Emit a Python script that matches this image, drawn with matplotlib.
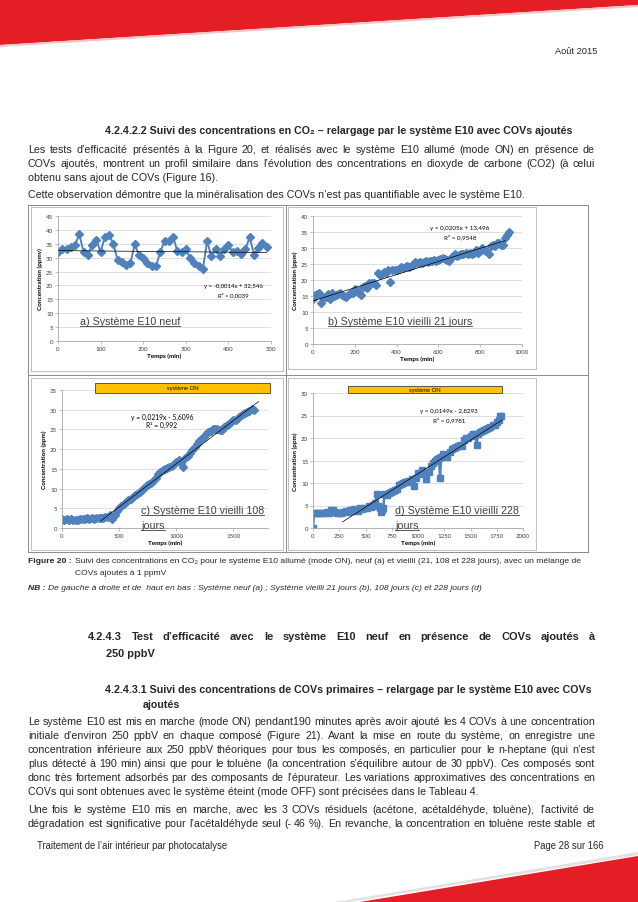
import numpy as np
import matplotlib
matplotlib.use("Agg")
import matplotlib.pyplot as plt
from matplotlib.patches import Polygon, Rectangle

W, H = 638, 903
RED = "#E31E24"
BLUE = "#4F81BD"
BODY = ["Liberation Sans", "DejaVu Sans"]
CHART = ["Lato", "Liberation Sans", "DejaVu Sans"]

# ---- data ----
# a) new system, every 10 min
a_time = np.arange(0, 500, 10)
a_conc = [32, 33, 33, 34, 34.5, 38.5, 32, 31, 34.5, 36.5,
          32, 37.5, 38, 35, 29, 28.5, 27.5, 28, 34.8, 31,
          30, 28, 27, 27, 32, 36, 36, 37.5, 32.5, 32,
          33, 30, 28, 27, 25.8, 36, 30.5, 33, 30.5, 33,
          34.5, 32, 32.5, 31.5, 33, 37.5, 31, 33.5, 35.3, 34]
a_fit = (-0.0014, 32.546)

# b) aged 21 days, every 10 min
b_time = np.arange(0, 950, 10)
b_conc = [14, 15.3, 15.5, 15.8, 12.8, 14.5, 14.8, 15.5, 14, 16,
          15, 15.3, 15.5, 15.8, 15.2, 15, 14.8, 15.5, 16, 15.8,
          17.3, 16.5, 16, 15.3, 17.8, 18, 17.5, 19, 19, 19.2,
          18.5, 22.3, 21.5, 22, 22.5, 22.3, 23, 19.5, 23, 23.2,
          23, 23.5, 24, 23.8, 24.2, 24.5, 24, 24.5, 24.8, 25.5,
          25.3, 25.5, 25.2, 25.5, 25.8, 25.5, 26, 25.8, 26.2, 26,
          26.3, 26.5, 26.8, 26.5, 26.2, 26, 26.8, 27.5, 28, 27.5,
          27.8, 28, 28.2, 28.5, 28, 28.3, 28, 28.5, 29.5, 28.5,
          29.2, 30, 29.5, 29, 28, 30.5, 31, 30.5, 31.5, 31.5,
          31, 30.8, 33, 34, 35]
b_fit = (0.0205, 13.496)

# c) aged 108 days
c_time = [0, 20, 40, 60, 80, 100, 120, 140, 160, 180, 200, 220, 240, 260, 280,
          300, 320, 340, 360, 380, 400, 420, 440, 460, 480, 500, 520, 540, 560,
          580, 600, 620, 640, 660, 680, 700, 720, 740, 760, 780, 800, 820, 840,
          860, 880, 900, 920, 940, 960, 980, 1000, 1020, 1040, 1060, 1080, 1100,
          1120, 1140, 1160, 1180, 1200, 1220, 1240, 1260, 1280, 1300, 1320, 1340,
          1360, 1380, 1400, 1420, 1440, 1460, 1480, 1500, 1520, 1540, 1560, 1580,
          1600, 1620, 1640, 1660, 1680]
c_conc = [2.2, 2.1, 2.2, 2.1, 2.2, 2.1, 2.0, 2.1, 2.2, 2.3, 2.2, 2.5, 2.4, 2.5, 2.4,
          2.5, 2.6, 2.5, 2.6, 2.7, 2.8, 3.2, 2.2, 3.3, 4.2, 5.0, 5.6, 6.2, 6.5,
          7.0, 7.3, 7.8, 8.3, 8.7, 9.2, 9.6, 10.2, 10.8, 11.2, 11.5, 12.0, 12.8, 13.8,
          14.3, 14.8, 15.0, 15.3, 15.5, 15.8, 16.3, 16.8, 17.2, 16.5, 15.5, 17.8, 18.3,
          19.0, 19.8, 20.5, 21.2, 22.0, 22.6, 23.2, 23.8, 24.3, 24.5, 25.0, 25.2,
          25.0, 24.8, 24.8, 25.5, 26.2, 26.5, 27.0, 27.3, 27.5, 28.0, 28.3, 28.8,
          29.2, 29.5, 29.8, 30.2, 30.0]
c_fit = (0.0219, -5.6096)

# d) aged 228 days
d_time = [0, 10, 30, 50, 70, 90, 110, 130, 150, 170, 190, 210, 230, 250, 270,
          290, 310, 330, 350, 370, 390, 410, 430, 450, 470, 490, 510, 530, 550,
          570, 590, 610, 620, 640, 650, 660, 670, 680, 700, 720, 740, 760, 780,
          800, 820, 840, 860, 880, 900, 920, 940, 960, 980, 1000, 1020, 1040, 1060,
          1080, 1100, 1120, 1140, 1160, 1180, 1200, 1210, 1220, 1240, 1260, 1280,
          1300, 1320, 1340, 1360, 1380, 1400, 1420, 1440, 1460, 1480, 1500, 1520,
          1540, 1560, 1570, 1590, 1610, 1630, 1650, 1670, 1690, 1710, 1730, 1750,
          1770, 1780, 1790]
d_conc = [0, 3.3, 3.4, 3.3, 3.4, 3.3, 3.4, 3.5, 3.4, 4.0, 3.9, 3.5, 3.4, 3.3, 3.3,
          3.5, 3.8, 3.5, 4.0, 3.8, 4.2, 4.0, 3.8, 4.5, 4.3, 4.5, 4.4, 4.8, 4.6,
          5.2, 5.5, 7.5, 5.0, 4.5, 3.5, 4.0, 4.5, 7.5, 7.3, 7.8, 8.0, 8.3, 8.5,
          8.6, 9.5, 9.8, 10.0, 10.3, 10.5, 10.2, 10.8, 9.3, 11.2, 12.3, 12.0, 13.0, 12.5,
          11.0, 12.5, 13.8, 14.5, 15.0, 15.3, 15.5, 11.2, 15.8, 16.5, 16.3, 15.8,
          17.0, 17.5, 17.8, 18.0, 18.3, 18.5, 18.2, 19.5, 20.0, 20.0, 20.5, 20.8,
          21.0, 18.5, 21.0, 21.3, 21.5, 21.8, 22.0, 22.2, 22.5, 22.8, 23.0, 23.5,
          24.0, 24.8, 25.0]
d_fit = (0.0149, -2.8293)

# ---- page text ----
H1 = "4.2.4.2.2 Suivi des concentrations en CO₂ – relargage par le système E10 avec COVs ajoutés"
PAR1 = ["Les tests d’efficacité présentés à la Figure 20, et réalisés avec le système E10 allumé (mode ON) en présence de",
        "COVs ajoutés, montrent un profil similaire dans l’évolution des concentrations en dioxyde de carbone (CO2) (à celui",
        "obtenu sans ajout de COVs (Figure 16)."]
PAR2 = ["Cette observation démontre que la minéralisation des COVs n’est pas quantifiable avec le système E10."]
CAP = ("Suivi des concentrations en CO₂ pour le système E10 allumé (mode ON), neuf (a) et vieilli "
       "(21, 108 et 228 jours), avec un mélange de")
NB = ("De gauche à droite et de  haut en bas : Système neuf (a) ; Système vieilli 21 jours (b), "
      "108 jours (c) et 228 jours (d)")
H2 = "4.2.4.3 Test d’efficacité avec le système E10 neuf en présence de COVs ajoutés à"
H3 = "4.2.4.3.1 Suivi des concentrations de COVs primaires – relargage par le système E10 avec COVs"
PAR3 = ["Le système E10 est mis en marche (mode ON) pendant190 minutes après avoir ajouté les 4 COVs à une concentration",
        "initiale d’environ 250 ppbV en chaque composé (Figure 21). Avant la mise en route du système, on enregistre une",
        "concentration inférieure aux 250 ppbV théoriques pour tous les composés, en particulier pour le n-heptane (qui n’est",
        "plus détecté à 190 min) ainsi que pour le toluène (la concentration s’équilibre autour de 30 ppbV). Ces composés sont",
        "donc très fortement adsorbés par des composants de l’épurateur. Les variations approximatives des concentrations en",
        "COVs qui sont obtenues avec le système éteint (mode OFF) sont précisées dans le Tableau 4."]
PAR4 = ["Une fois le système E10 mis en marche, avec les 3 COVs résiduels (acétone, acétaldéhyde, toluène), l’activité de",
        "dégradation est significative pour l’acétaldéhyde seul (- 46 %). En revanche, la concentration en toluène reste stable et"]

fig = plt.figure(figsize=(W / 100, H / 100), dpi=100)
page = fig.add_axes([0, 0, 1, 1])
page.set_xlim(0, W)
page.set_ylim(H, 0)
page.axis("off")
renderer = fig.canvas.get_renderer()

# red header / footer bands
page.add_patch(Polygon([(0, 0), (W, 0), (W, 6), (0, 46)], color=RED, lw=0))
page.add_patch(Polygon([(0, 46), (W, 6), (W, 8), (0, 48)], color="#F4C6C6", lw=0))
page.add_patch(Polygon([(335, H), (W, 853), (W, 856), (350, H)], color="#E2E2E2", lw=0))
page.add_patch(Polygon([(360, H), (W, 857), (W, H)], color=RED, lw=0))


def txt(x, y, s, size=7.0, ha="left", **kw):
    kw.setdefault("color", "#262626")
    kw.setdefault("family", BODY)
    return page.text(x, y, s, fontsize=size, ha=ha, va="center", **kw)


def width(s, size, **kw):
    t = txt(0, 0, s, size, **kw)
    w = t.get_window_extent(renderer).width
    t.remove()
    return w


def fit(s, target, **kw):
    return 8.0 * target / width(s, 8.0, **kw)


def justify(x0, x1, y, s, size, **kw):
    words = s.split()
    objs = [txt(x0, y, w, size, **kw) for w in words]
    widths = [o.get_window_extent(renderer).width for o in objs]
    gap = (x1 - x0 - sum(widths)) / (len(words) - 1)
    x = x0
    for o, w in zip(objs, widths):
        o.set_x(x)
        x += w + gap


def paragraph(x0, x1, y, lines, size, dy=14, last_justified=False):
    for i, line in enumerate(lines):
        if i < len(lines) - 1 or last_justified:
            justify(x0, x1, y + i * dy, line, size)
        else:
            txt(x0, y + i * dy, line, size)


# body size: longest justified line fills the column with normal spacing
just_lines = PAR1[:-1] + PAR3[:-1] + PAR4
body = min(fit(s, 566) for s in just_lines) * 0.995

txt(597, 51, "Août 2015", body * 0.88, ha="right")
txt(105, 131, H1, fit(H1, 468, weight="bold"), weight="bold")
paragraph(28, 595, 150, PAR1, body)
txt(28, 195, PAR2[0], body)

# figure table
for yy in (206, 376, 553):
    page.plot([28, 588], [yy, yy], color="#8C8C8C", lw=0.7)
for xx in (28, 285.5, 588):
    page.plot([xx, xx], [206, 553], color="#8C8C8C", lw=0.7)
for (fx0, fy0, fx1, fy1) in [(31, 208, 283, 372), (288, 208, 536, 370),
                             (31, 379, 283, 551), (288, 379, 536, 551)]:
    page.add_patch(Rectangle((fx0, fy0), fx1 - fx0, fy1 - fy0, fill=False,
                             ec="#BFBFBF", lw=0.7))

# caption / NB
cs = 8.0 * 552 / (width("Figure 20 :", 8.0, weight="bold") + width(CAP, 8.0) + 4)
cap = txt(28, 562, "Figure 20 :", cs, weight="bold")
cx = 28 + cap.get_window_extent(renderer).width + 3
txt(cx, 562, CAP, cs)
txt(cx, 574, "COVs ajoutés à 1 ppmV", cs)
nb = txt(28, 589, "NB :", cs, weight="bold", style="italic")
txt(28 + nb.get_window_extent(renderer).width + 2, 589, NB, cs, style="italic")

h2 = 7.9
justify(88, 595, 637, H2, h2, weight="bold")
txt(106, 654, "250 ppbV", h2, weight="bold")
txt(105, 690, H3, fit(H3, 488, weight="bold"), weight="bold")
txt(143, 705, "ajoutés", fit(H3, 488, weight="bold"), weight="bold")

paragraph(28, 595, 722, PAR3, body)
paragraph(28, 595, 810, PAR4, body, last_justified=True)

txt(37, 846, "Traitement de l’air intérieur par photocatalyse", body * 0.9)
txt(603, 846, "Page 28 sur 166", body * 0.9, ha="right")


def chart(x0, x1, ytop, ybot, xmax, ymax, xstep, ystep, ylabel):
    ax = fig.add_axes([x0 / W, 1 - ybot / H, (x1 - x0) / W, (ybot - ytop) / H])
    ax.set_xlim(0, xmax)
    ax.set_ylim(0, ymax)
    ax.set_xticks(np.arange(0, xmax + 1, xstep))
    ax.set_yticks(np.arange(0, ymax + 1, ystep))
    ax.grid(axis="y", color="#D9D9D9", lw=0.6)
    ax.set_axisbelow(True)
    ax.patch.set_alpha(0)
    for s in ("top", "right"):
        ax.spines[s].set_visible(False)
    for s in ("left", "bottom"):
        ax.spines[s].set_color("#A6A6A6")
        ax.spines[s].set_linewidth(0.6)
    ax.tick_params(labelsize=4.4, labelcolor="#404040", color="#A6A6A6",
                   length=2, width=0.5, pad=1.5)
    for lab in ax.get_xticklabels() + ax.get_yticklabels():
        lab.set_family(CHART)
    ax.set_xlabel("Temps (min)", fontsize=4.6, fontweight="bold", labelpad=1.5, family=CHART)
    ax.set_ylabel(ylabel, fontsize=4.6, fontweight="bold", labelpad=2, family=CHART)
    return ax


def trend(ax, coef, t0, t1):
    xs = np.array([t0, t1])
    ax.plot(xs, coef[0] * xs + coef[1], color="black", lw=0.5, zorder=5)


def on_box(ax, xa, xb, ya, yb):
    ax.add_patch(Rectangle((xa, ya), xb - xa, yb - ya, fc="#FFC000", ec="#404040",
                           lw=0.6, clip_on=False, zorder=6))
    ax.text((xa + xb) / 2, (ya + yb) / 2, "système ON", fontsize=4.2, ha="center",
            va="center", family=CHART, zorder=7, clip_on=False)


ax_a = chart(58, 271, 217, 342, 500, 45, 100, 5, "Concentration (ppmv)")
ax_a.plot(a_time, a_conc, color=BLUE, lw=1.4, marker="D", ms=4)
trend(ax_a, a_fit, 0, 490)

ax_b = chart(313, 522, 217, 345, 1000, 40, 200, 5, "Concentration (ppm)")
ax_b.plot(b_time, b_conc, ls="none", color=BLUE, marker="D", ms=4.2)
trend(ax_b, b_fit, 0, 920)

ax_c = chart(62, 267.7, 391, 529, 1800, 35, 500, 5, "Concentration (ppm)")
ax_c.plot(c_time, c_conc, color=BLUE, lw=2.2, marker="D", ms=4.2)
trend(ax_c, c_fit, 340, 1720)
on_box(ax_c, 289, 1820, 34.24, 36.78)

ax_d = chart(313, 523, 394, 529, 2000, 30, 250, 5, "Concentration (ppm)")
ax_d.plot(d_time, d_conc, color=BLUE, lw=1.8, marker="s", ms=4.8)
trend(ax_d, d_fit, 280, 1800)
on_box(ax_d, 333, 1800, 29.95, 31.55)

# overlay for equations and panel labels (page pixel coordinates)
top = fig.add_axes([0, 0, 1, 1], zorder=10)
top.set_xlim(0, W)
top.set_ylim(H, 0)
top.axis("off")
for (ex, ey, e1, e2, es) in [(233, 287, "y = -0,0014x + 32,546", "R² = 0,0039", 4.3),
                             (460, 229, "y = 0,0205x + 13,496", "R² = 0,9548", 4.5),
                             (162, 417, "y = 0,0219x - 5,6096", "R² = 0,992", 4.9),
                             (449, 412, "y = 0,0149x - 2,8293", "R² = 0,9781", 4.5)]:
    top.text(ex, ey, e1, fontsize=es, ha="center", va="center", family=CHART)
    top.text(ex, ey + 8.5, e2, fontsize=es, ha="center", va="center", family=CHART)

for (lx, ly, lab) in [(80, 322, "a) Système E10 neuf"),
                      (328, 322, "b) Système E10 vieilli 21 jours"),
                      (141, 511, "c) Système E10 vieilli 108"),
                      (395, 511, "d) Système E10 vieilli 228"),
                      (141, 526, "jours"),
                      (395, 526, "jours")]:
    t = top.text(lx, ly, lab, fontsize=7.7, ha="left", va="center", family=BODY, color="#404040")
    bb = t.get_window_extent(renderer)
    top.plot([lx, lx + bb.width], [ly + 5, ly + 5], color="#404040", lw=0.6)

fig.savefig("out.png", dpi=100)
